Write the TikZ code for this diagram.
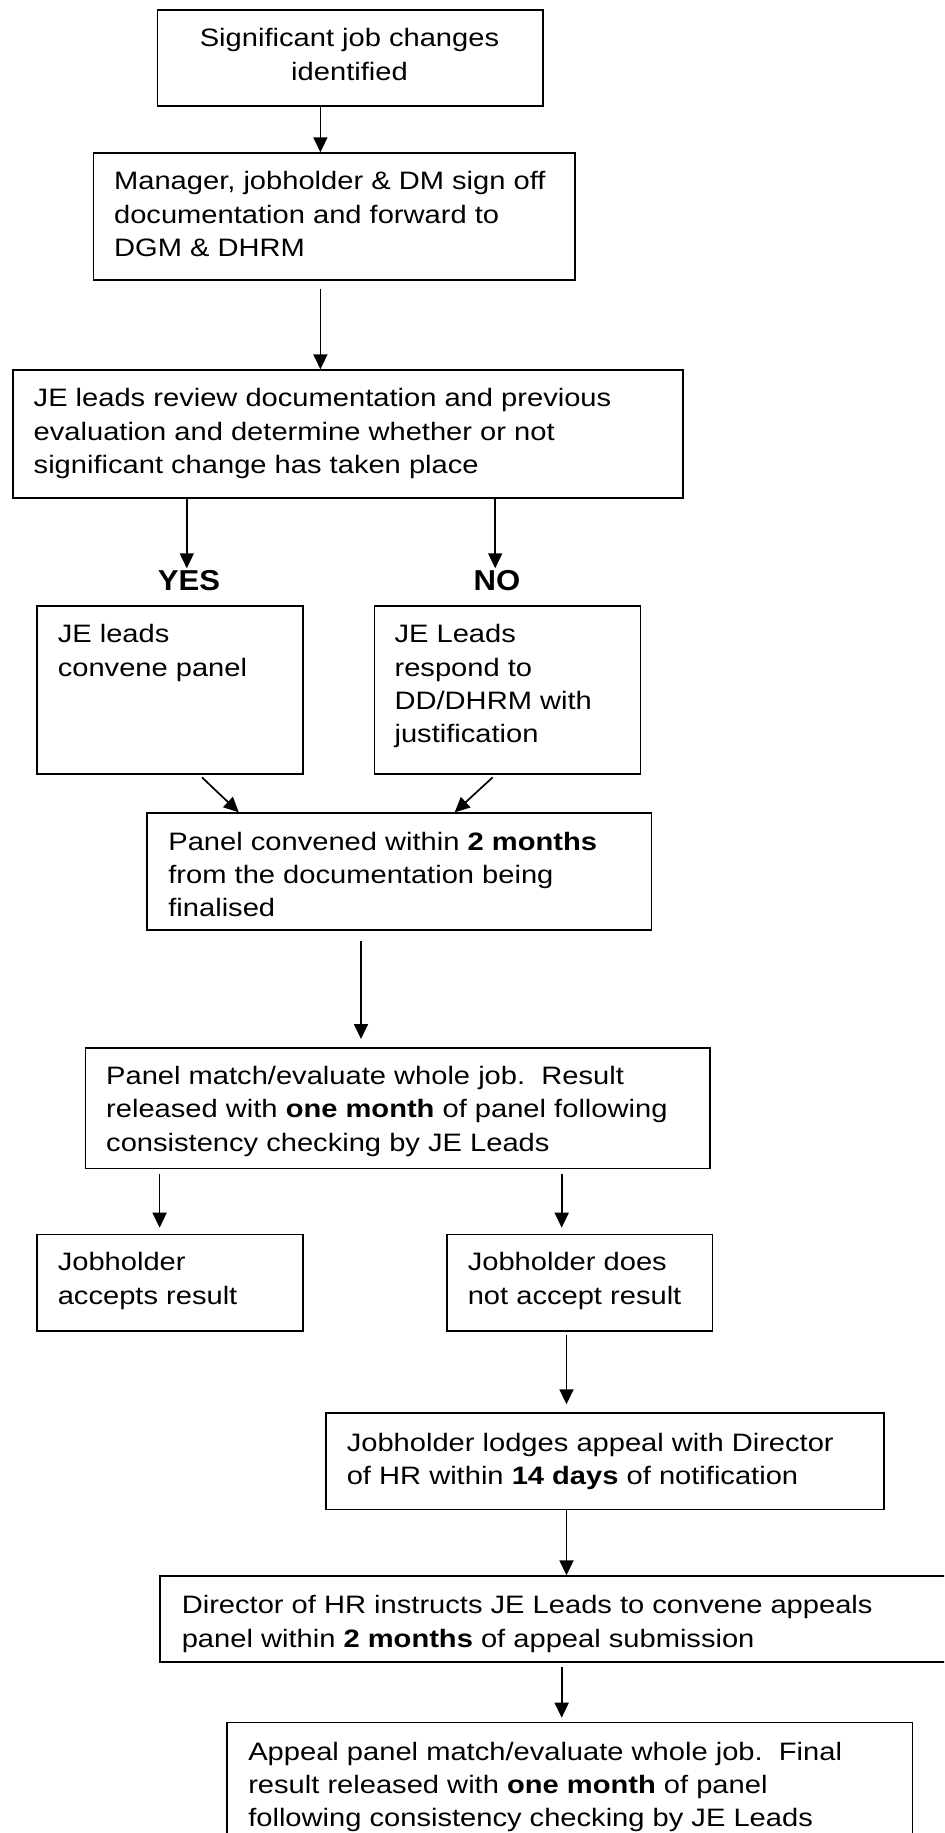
\documentclass[tikz,border=0pt]{standalone}
\usepackage{fontspec}
\setmainfont{Liberation Sans}[FakeStretch=1.155]
\newfontfamily\lblfont{Liberation Sans}[FakeStretch=1.08]
\usetikzlibrary{arrows.meta}
\begin{document}
\begin{tikzpicture}[x=0.5pt,y=-0.5pt,
  box/.style={draw, line width=0.85pt, inner sep=0pt, anchor=north west, rectangle},
  txt/.style={inner sep=0pt, anchor=base west, align=left, font=\fontsize{12.6pt}{16.67pt}\selectfont},
  lbl/.style={inner sep=0pt, anchor=base, font=\lblfont\fontsize{14.4pt}{16pt}\selectfont\bfseries},
  arr/.style={line width=0.85pt, -{Triangle[length=7.5pt,width=7pt]}}]
\useasboundingbox (0,0) rectangle (944,1833);
\clip (0,0) rectangle (944,1833);
% boxes
\node[box, minimum width=192.85pt, minimum height=48.15pt] (b1) at (156.6,9) {};
\node[box, minimum width=240.95pt, minimum height=63.5pt] (b2) at (92.5,152.3) {};
\node[box, minimum width=334.95pt, minimum height=63.85pt] (b3) at (12.1,369.3) {};
\node[box, minimum width=133pt, minimum height=84.15pt] (byes) at (36.3,605) {};
\node[box, minimum width=133pt, minimum height=84.15pt] (bno) at (373.6,605) {};
\node[box, minimum width=252.1pt, minimum height=58.5pt] (b4) at (146.3,812.3) {};
\node[box, minimum width=312.3pt, minimum height=60.35pt] (b5) at (84.6,1047) {};
\node[box, minimum width=133pt, minimum height=48.3pt] (bacc) at (36.3,1233.7) {};
\node[box, minimum width=132.7pt, minimum height=48.3pt] (bnot) at (446.2,1233.7) {};
\node[box, minimum width=279pt, minimum height=48.2pt] (b6) at (325.3,1412.3) {};
\node[box, minimum width=410pt, minimum height=42.85pt] (b7) at (159,1575.3) {};
\node[box, minimum width=342.75pt, minimum height=70pt] (b8) at (226,1721.7) {};
% texts (anchored at the baseline of their last line)
\node[txt, anchor=base, align=center] (t1) at (349.5,80) {Significant job changes\\identified};
\node[txt] (t2) at (113.7,256.5) {Manager, jobholder \& DM sign off\\documentation and forward to\\DGM \& DHRM};
\node[txt] (t3) at (33.3,473.6) {JE leads review documentation and previous\\evaluation and determine whether or not\\significant change has taken place};
\node[lbl] (yes) at (189,590.7) {YES};
\node[lbl] (no) at (497,590.7) {NO};
\node[txt] (tyes) at (57.4,676) {JE leads\\convene panel};
\node[txt] (tno) at (394.2,742.7) {JE Leads\\respond to\\DD/DHRM with\\justification};
\node[txt] (t4) at (168,916.7) {Panel convened within \textbf{2 months}\\from the documentation being\\finalised};
\node[txt] (t5) at (105.8,1151) {Panel match/evaluate whole job.\ \ Result\\released with \textbf{one month} of panel following\\consistency checking by JE Leads};
\node[txt] (tacc) at (57.4,1304.3) {Jobholder\\accepts result};
\node[txt] (tnot) at (467.4,1304.3) {Jobholder does\\not accept result};
\node[txt] (t6) at (346.4,1484.5) {Jobholder lodges appeal with Director\\of HR within \textbf{14 days} of notification};
\node[txt] (t7) at (181.4,1647) {Director of HR instructs JE Leads to convene appeals\\panel within \textbf{2 months} of appeal submission};
\node[txt] (t8) at (247.9,1826.7) {Appeal panel match/evaluate whole job.\ \ Final\\result released with \textbf{one month} of panel\\following consistency checking by JE Leads};
% free ends
\coordinate (ey) at (186.8,568.3);
\coordinate (en) at (495.2,568.3);
% arrows
\draw[arr] (320.4,0 |- b1.south) -- (320.4,0 |- b2.north);
\draw[arr, shorten <=3.85pt] (320.4,0 |- b2.south) -- (320.4,0 |- b3.north);
\draw[arr] (ey |- b3.south) -- (ey);
\draw[arr] (en |- b3.south) -- (en);
\draw[arr, shorten <=1.7pt] (199.5,0 |- byes.south) -- (238.8,0 |- b4.north);
\draw[arr, shorten <=1.7pt] (495.2,0 |- bno.south) -- (454.7,0 |- b4.north);
\draw[arr, shorten <=5pt, shorten >=4pt] (361,0 |- b4.south) -- (361,0 |- b5.north);
\draw[arr, shorten <=2.5pt, shorten >=3pt] (159.6,0 |- b5.south) -- (159.6,0 |- bacc.north);
\draw[arr, shorten <=2.5pt, shorten >=3pt] (561.7,0 |- b5.south) -- (561.7,0 |- bnot.north);
\draw[arr, shorten <=1.5pt, shorten >=4pt] (566.5,0 |- bnot.south) -- (566.5,0 |- b6.north);
\draw[arr] (566.5,0 |- b6.south) -- (566.5,0 |- b7.north);
\draw[arr, shorten <=2.35pt, shorten >=2pt] (561.7,0 |- b7.south) -- (561.7,0 |- b8.north);
\end{tikzpicture}
\end{document}
